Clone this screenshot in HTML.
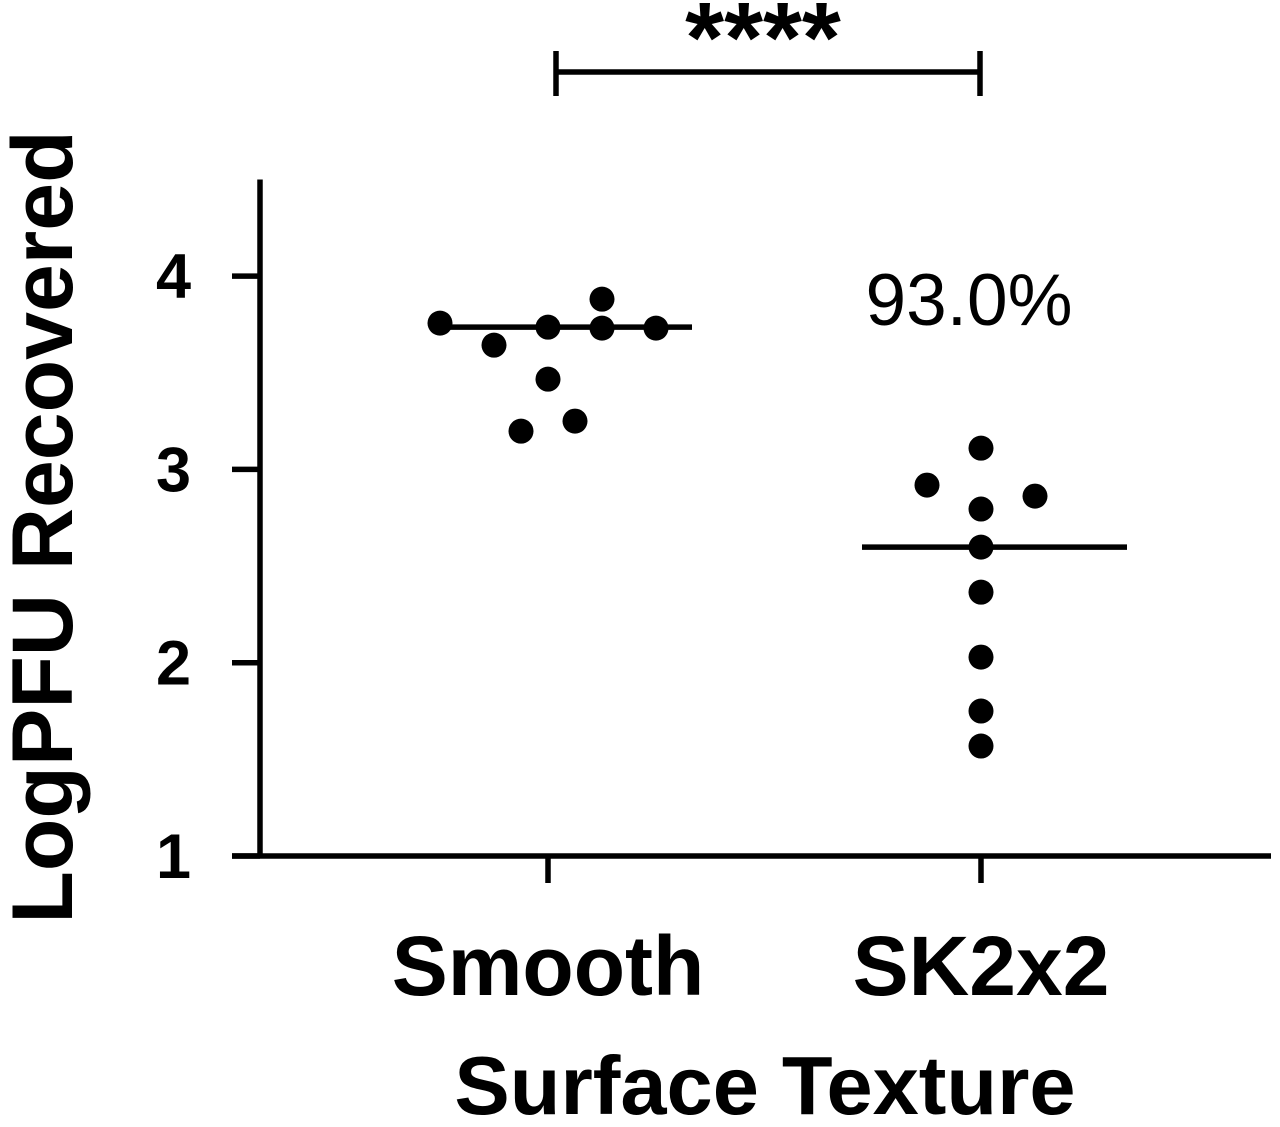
<!DOCTYPE html>
<html><head><meta charset="utf-8"><style>
html,body{margin:0;padding:0;background:#fff;}
svg{display:block;font-family:"Liberation Sans",Arial,sans-serif;}
</style></head><body>
<svg id="chart" width="1280" height="1127" viewBox="0 0 1280 1127" xmlns="http://www.w3.org/2000/svg"></svg>
<script>
const categories = ["Smooth", "SK2x2"];
const smoothValues = [3.757, 3.643, 3.736, 3.881, 3.731, 3.731, 3.467, 3.198, 3.25];
const smoothSlots = [-2, -1, 0, 1, 1, 2, 0, -0.5, 0.5];
const skValues = [3.11, 2.919, 2.795, 2.862, 2.598, 2.365, 2.029, 1.75, 1.569];
const skSlots = [0, -1, 0, 1, 0, 0, 0, 0, 0];
const means = [3.736, 2.598];
const yTicks = [1, 2, 3, 4];
const yTickLabels = ["1", "2", "3", "4"];

const NS = "http://www.w3.org/2000/svg";
const svg = document.getElementById("chart");
const yMin = 1, yMax = 4.5, yBottom = 856, yTop = 179.5;
function yScale(v){ return yBottom - (v - yMin) / (yMax - yMin) * (yBottom - yTop); }
const catX = [548, 981];
function xScale(i, slot){ return catX[i] + slot * 54; }
function mk(tag, attrs, name, text){
  const el = document.createElementNS(NS, tag);
  for (const k in attrs) el.setAttribute(k, attrs[k]);
  
  
  if (text !== undefined) el.textContent = text;
  svg.appendChild(el);
  return el;
}
const S = {stroke:"#000","stroke-width":5.5,fill:"none"};
mk("line", Object.assign({x1:260,y1:yTop,x2:260,y2:yBottom+2}, S), "y-axis-line");
mk("line", Object.assign({x1:232,y1:yBottom,x2:1271,y2:yBottom}, S), "x-axis-line");
yTicks.forEach((t,i)=>{
  const y = yScale(t);
  mk("line", Object.assign({x1:232,y1:y,x2:260,y2:y}, S), "y-tick-"+t);
  mk("text", {x:191,y:y+22,"text-anchor":"end","font-size":63,"font-weight":"bold"}, "y-tick-label-"+t, yTickLabels[i]);
});
categories.forEach((c,i)=>{
  mk("line", Object.assign({x1:catX[i],y1:yBottom,x2:catX[i],y2:883}, S), "x-tick-"+c.toLowerCase());
  mk("text", {x:catX[i],y:995,"text-anchor":"middle","font-size":84,"font-weight":"bold"}, "x-tick-label-"+c.toLowerCase(), c);
});
mk("text", {x:765,y:1114,"text-anchor":"middle","font-size":83,"font-weight":"bold"}, "x-axis-title", "Surface Texture");
mk("text", {x:0,y:0,"text-anchor":"middle","font-size":86,"font-weight":"bold",transform:"translate(72,527) rotate(-90)"}, "y-axis-title", "LogPFU Recovered");
mk("line", Object.assign({x1:430,y1:yScale(means[0]),x2:692,y2:yScale(means[0])}, S), "mean-line-smooth");
mk("line", Object.assign({x1:862,y1:yScale(means[1]),x2:1127,y2:yScale(means[1])}, S), "mean-line-sk2x2");
smoothValues.forEach((v,k)=>{
  mk("circle", {cx:xScale(0, smoothSlots[k]), cy:yScale(v), r:12.5, fill:"#000"}, "point-smooth-"+k);
});
skValues.forEach((v,k)=>{
  mk("circle", {cx:xScale(1, skSlots[k]), cy:yScale(v), r:12.5, fill:"#000"}, "point-sk2x2-"+k);
});
mk("text", {x:969,y:325,"text-anchor":"middle","font-size":73}, "percent-label", "93.0%");
mk("line", Object.assign({x1:556,y1:72,x2:980,y2:72}, S), "significance-bracket");
mk("line", Object.assign({x1:556,y1:51,x2:556,y2:96}, S), "bracket-left-end");
mk("line", Object.assign({x1:980,y1:51,x2:980,y2:96}, S), "bracket-right-end");
mk("text", {x:763,y:72,"text-anchor":"middle","font-size":100,"font-weight":"bold"}, "significance-stars", "****");
</script>
</body></html>
